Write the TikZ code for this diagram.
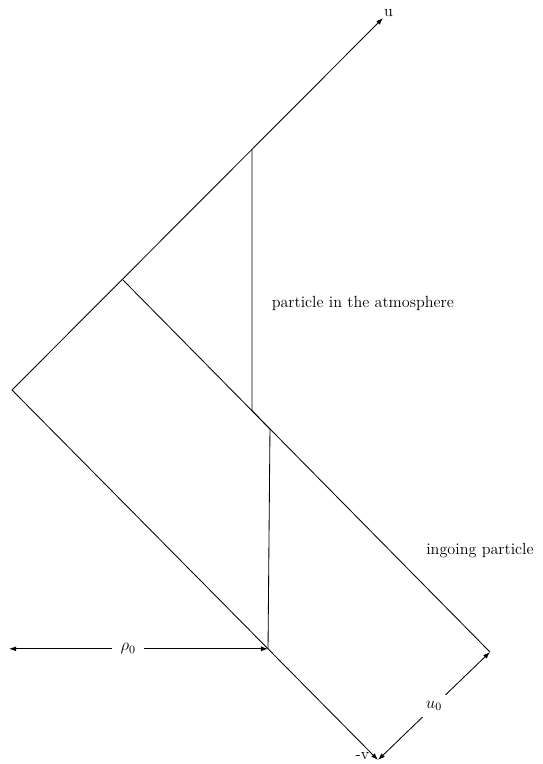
\documentclass[tikz,border=0pt]{standalone}
\usepackage{amsmath,amssymb}
\usepackage{xcolor}
\usepackage{tikz}
\usetikzlibrary{
  arrows.meta,
  positioning,
  calc,
}

\begin{document}
\begin{tikzpicture}[
  font=\fontsize{11.5}{13}\selectfont,
  every node/.style={align=center},
  line/.style={line width=0.6pt},
  arrow/.style={-{Latex[length=5pt,width=3.5pt]}, line width=0.6pt},
  dimarrow/.style={{Latex[length=5pt,width=3.5pt]}-{Latex[length=5pt,width=3.5pt]}, line width=0.6pt},
]
\useasboundingbox (0,0) rectangle (13.575,19.1);

%% corners
\coordinate (O) at (0.30,9.35);
\coordinate (utip) at (9.575,18.65);
\coordinate (vtip) at (9.45,0.10);
\coordinate (A) at (3.075,12.10);
\coordinate (B) at (12.25,2.80);
\coordinate (P) at (6.30,15.375);
\coordinate (Q) at ($(A)!0.3515!(B)$);
\coordinate (R) at ($(A)!0.4005!(B)$);
\coordinate (S) at ($(O)!0.6995!(vtip)$);
\coordinate (L) at ($(S)+(-6.475,0)$);

%% axes
\draw[arrow] (O) -- (utip)
  node[anchor=south west,inner sep=0.5pt] (ulabel) {u};
\draw[arrow] (O) -- (vtip)
  node[anchor=south east,inner sep=1pt,xshift=-5pt,yshift=-1pt] (vlabel) {-v};

%% ingoing particle
\draw[line] (A) -- (B);
\node (ingoing) at (12.0,5.325) {ingoing particle};

%% particle in the atmosphere
\draw[line] (P) -- (Q) -- (R) -- (S);
\node[anchor=west] (atm) at (6.67,11.525) {particle in the atmosphere};

%% distances
\draw[dimarrow] (L) -- node[fill=white,inner xsep=6pt,pos=0.46] (rho) {$\rho_0$} (S);
\draw[dimarrow] (vtip) -- node[fill=white,inner sep=4pt] (uzero) {$u_0$} (B);

\end{tikzpicture}
\end{document}
